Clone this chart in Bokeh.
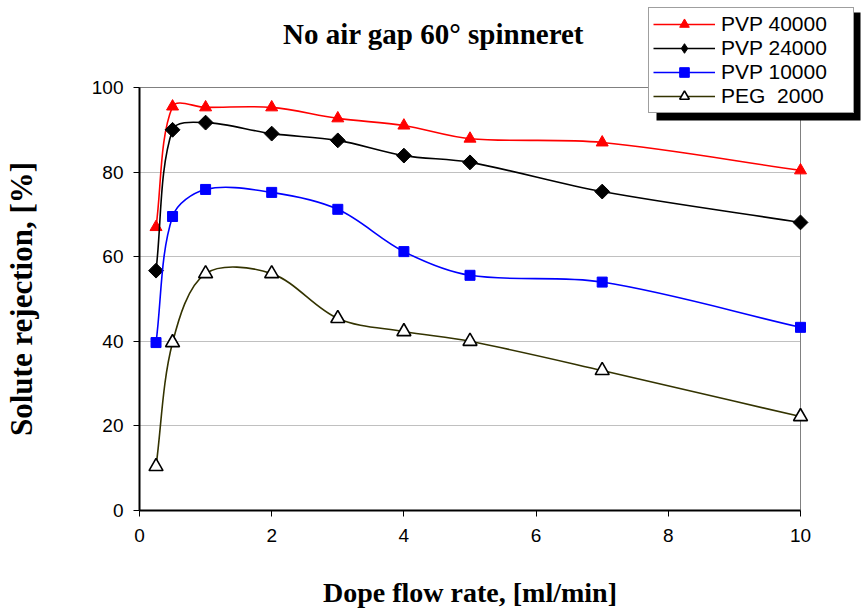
import math
import numpy as np
from bokeh.plotting import figure
from bokeh.models import (Range1d, SingleIntervalTicker, Legend, LegendItem,
                          Label, BoxAnnotation)
from bokeh.embed import file_html
from bokeh.resources import INLINE

# ---- data ----
flow_rate = [0.25, 0.5, 1, 2, 3, 4, 5, 7, 10]
pvp_40000 = [67.0, 95.5, 95.3, 95.3, 92.7, 91.0, 87.9, 87.0, 80.4]
pvp_24000 = [56.7, 90.0, 91.7, 89.1, 87.5, 83.9, 82.3, 75.4, 68.1]
pvp_10000 = [39.7, 69.5, 75.9, 75.2, 71.2, 61.2, 55.6, 54.0, 43.3]
peg_2000 = [10.4, 39.7, 56.0, 56.0, 45.4, 42.3, 40.0, 33.1, 22.2]
series_names = ["PVP 40000", "PVP 24000", "PVP 10000", "PEG  2000"]
x_min, x_max, x_step = 0, 10, 2
y_min, y_max, y_step = 0, 100, 20
title_text = "No air gap 60\u00b0 spinneret"
x_label = "Dope flow rate, [ml/min]"
y_label = "Solute rejection, [%]"

# ---- layout (pixels in the 861x614 canvas) ----
W, H = 861, 614
PL, PR, PT, PB = 139, 800, 87, 510   # plot-area edges
px_x = (PR - PL) / (x_max - x_min)
px_y = (PB - PT) / (y_max - y_min)
xr = Range1d(x_min - PL / px_x, x_max + (W - PR) / px_x)
yr = Range1d(y_min - (H - PB) / px_y, y_max + PT / px_y)

# legend geometry
LEG_MARGIN, LEG_PAD = 7, 4
LEG_GLYPH_W, LEG_GLYPH_H, LEG_STANDOFF, LEG_LABEL_W = 62, 24, 6, 128
LEG_ROW = 24.75
leg_w = 2 * LEG_PAD + LEG_GLYPH_W + LEG_STANDOFF + LEG_LABEL_W
leg_h = 2 * LEG_PAD + len(series_names) * LEG_ROW
leg_right = W - LEG_MARGIN
leg_left = leg_right - leg_w
leg_top = LEG_MARGIN
leg_bottom = leg_top + leg_h


def smooth_segments(xs, ys):
    """Cubic Bezier control points for a smoothed line through the points
    (chord-length weighted Catmull-Rom, as spreadsheet 'smoothed lines')."""
    n = len(xs)

    def dist(i, j):
        return math.hypot((xs[j] - xs[i]) * px_x, (ys[j] - ys[i]) * px_y)

    seg = dict(x0=[], y0=[], x1=[], y1=[], cx0=[], cy0=[], cx1=[], cy1=[])
    for i in range(n - 1):
        a = max(i - 1, 0)
        d = min(i + 2, n - 1)
        dp, dc, dn = dist(a, i), dist(i, i + 1), dist(i + 1, d)
        f1 = dc / (dp + dc) / 3.0
        f2 = dc / (dc + dn) / 3.0
        seg["x0"].append(xs[i]); seg["y0"].append(ys[i])
        seg["x1"].append(xs[i + 1]); seg["y1"].append(ys[i + 1])
        seg["cx0"].append(xs[i] + (xs[i + 1] - xs[a]) * f1)
        seg["cy0"].append(ys[i] + (ys[i + 1] - ys[a]) * f1)
        seg["cx1"].append(xs[i + 1] - (xs[d] - xs[i]) * f2)
        seg["cy1"].append(ys[i + 1] - (ys[d] - ys[i]) * f2)
    return seg


p = figure(width=W, height=H, output_backend="svg", toolbar_location=None,
           x_range=xr, y_range=yr, min_border=0)
p.min_border_left = p.min_border_right = p.min_border_top = p.min_border_bottom = 0
p.title.visible = False
p.background_fill_color = "white"
p.border_fill_color = "white"
p.outline_line_color = None

p.xgrid.visible = False
p.ygrid.grid_line_color = "#c0c0c0"
p.ygrid.grid_line_width = 1
p.ygrid.bounds = (y_min + y_step, y_max - y_step)
p.ygrid.cross_bounds = (x_min, x_max)
p.ygrid.ticker = SingleIntervalTicker(interval=y_step, num_minor_ticks=0)

# plot-area border (grey top/right)
p.quad(left=[x_min], right=[x_max], bottom=[y_min], top=[y_max],
       fill_color=None, line_color="#808080", line_width=1)

p.xaxis.ticker = SingleIntervalTicker(interval=x_step, num_minor_ticks=0)
p.yaxis.ticker = SingleIntervalTicker(interval=y_step, num_minor_ticks=0)
p.xaxis.fixed_location = y_min
p.yaxis.fixed_location = x_min
p.xaxis.bounds = (x_min, x_max)
p.yaxis.bounds = (y_min, y_max)
for ax in (p.xaxis[0], p.yaxis[0]):
    ax.axis_line_color = "black"
    ax.axis_line_width = 2
    ax.major_tick_line_color = "black"
    ax.major_tick_line_width = 1
    ax.major_tick_out = 6
    ax.major_tick_in = 0
    ax.minor_tick_line_color = None
    ax.major_label_text_font = "Liberation Sans"
    ax.major_label_text_font_size = "19px"
    ax.major_label_text_color = "black"
    ax.axis_label_text_font = "Liberation Serif"
    ax.axis_label_text_font_style = "bold"
    ax.axis_label_text_color = "black"
p.xaxis.major_label_standoff = 12
p.yaxis.major_label_standoff = 10
p.xaxis.axis_label = x_label
p.yaxis.axis_label = y_label
p.xaxis.axis_label_text_font_size = "28px"
p.yaxis.axis_label_text_font_size = "31px"
p.xaxis.axis_label_standoff = 32
p.yaxis.axis_label_standoff = 50

styles = [
    dict(ys=pvp_40000, color="#ff0000", marker="triangle", size=12, fill="#ff0000",
         mline="#ff0000", mwidth=1, angle=0.0),
    dict(ys=pvp_24000, color="#000000", marker="square", size=10.5, fill="#000000",
         mline="#000000", mwidth=1, angle=np.pi / 4),
    dict(ys=pvp_10000, color="#0000ff", marker="square", size=10, fill="#0000ff",
         mline="#0000ff", mwidth=1, angle=0.0),
    dict(ys=peg_2000, color="#333300", marker="triangle", size=14, fill="#ffffff",
         mline="#000000", mwidth=1.6, angle=0.0),
]

items = []
for name, st in zip(series_names, styles):
    seg = smooth_segments(flow_rate, st["ys"])
    curve = p.bezier(source=seg, x0="x0", y0="y0", x1="x1", y1="y1",
                     cx0="cx0", cy0="cy0", cx1="cx1", cy1="cy1",
                     line_color=st["color"], line_width=1.6)
    leg_mark = None
    if st["angle"] != 0.0:
        # an upright diamond for the legend key, hidden under the rotated squares
        leg_mark = p.scatter(x=flow_rate, y=st["ys"], marker="diamond", size=9,
                             fill_color=st["fill"], line_color=st["mline"],
                             line_width=st["mwidth"])
    sc = p.scatter(x=flow_rate, y=st["ys"], marker=st["marker"], size=st["size"],
                   angle=st["angle"], fill_color=st["fill"], line_color=st["mline"],
                   line_width=st["mwidth"])
    items.append(LegendItem(label=name, renderers=[curve, leg_mark or sc]))

# legend shadow (screen units: frame == canvas, y measured upward)
shadow = BoxAnnotation(left=leg_left + 6, right=W - 1, top=H - (leg_top + 5),
                       bottom=H - (leg_bottom + 6),
                       left_units="screen", right_units="screen",
                       top_units="screen", bottom_units="screen",
                       fill_color="black", fill_alpha=1.0, line_alpha=0)
p.add_layout(shadow)

legend = Legend(items=items, location="top_right", margin=LEG_MARGIN,
                label_text_font="Liberation Sans", label_text_font_size="21px",
                label_text_color="black",
                glyph_width=LEG_GLYPH_W, glyph_height=LEG_GLYPH_H, label_height=20,
                label_width=LEG_LABEL_W, label_standoff=LEG_STANDOFF,
                padding=LEG_PAD, spacing=0,
                border_line_color="#404040", border_line_width=1.5,
                background_fill_color="white", background_fill_alpha=1.0)
p.add_layout(legend)

title = Label(x=433, y=H - 33, x_units="screen", y_units="screen", text=title_text,
              text_font="Liberation Serif", text_font_style="bold",
              text_font_size="29px", text_align="center", text_baseline="middle",
              text_color="black")
p.add_layout(title)

open("out.html", "w").write(file_html(p, INLINE))
